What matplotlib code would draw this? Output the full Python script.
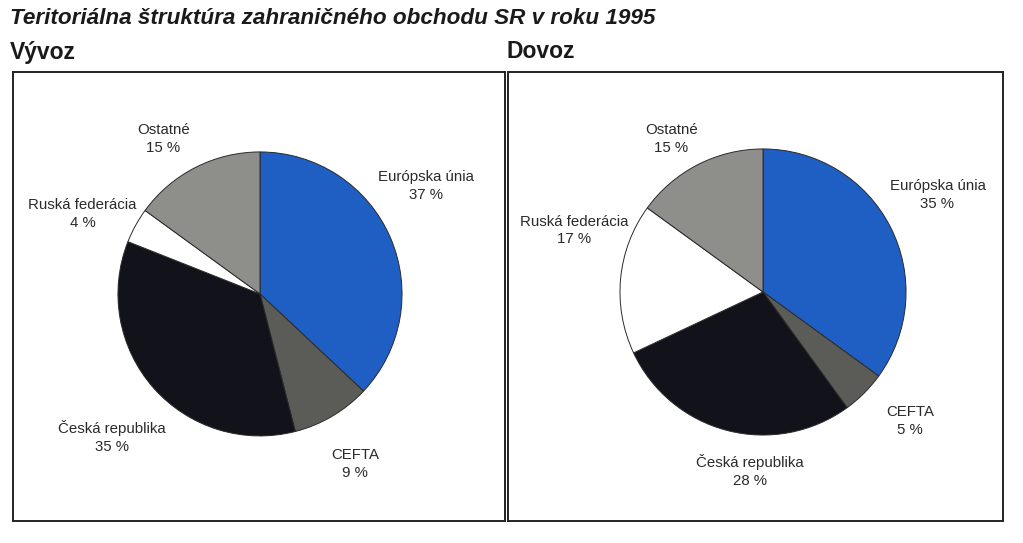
import matplotlib.pyplot as plt

# ── data ──────────────────────────────────────────────────────────────────────
REGIONS = ["Európska únia", "CEFTA", "Česká republika", "Ruská federácia", "Ostatné"]
VYVOZ   = [37, 9, 35, 4, 15]
DOVOZ   = [35, 5, 28, 17, 15]
COLORS  = ["#1f5fc4", "#5b5b57", "#12121a", "#ffffff", "#8e8e8a"]

# label positions (in pie-radius units), same order as REGIONS
POS_VYVOZ = [(1.17, 0.76), (0.67, -1.20), (-1.04, -1.01), (-1.25, 0.56), (-0.68, 1.09)]
POS_DOVOZ = [(1.22, 0.68), (1.03, -0.90), (-0.09, -1.25), (-1.32, 0.43), (-0.64, 1.07)]

plt.rcParams["font.family"] = ["Liberation Sans", "DejaVu Sans"]

W, H = 1023, 543
fig = plt.figure(figsize=(W / 100, H / 100), dpi=100)


def panel(rect_px, xlim, ylim, values, positions):
    x0, y0, x1, y1 = rect_px
    ax = fig.add_axes([x0 / W, 1 - y1 / H, (x1 - x0) / W, (y1 - y0) / H])
    ax.pie(values, colors=COLORS, startangle=90, counterclock=False,
           wedgeprops=dict(edgecolor="#2a2a2a", linewidth=0.7))
    ax.set_xlim(*xlim)
    ax.set_ylim(*ylim)
    ax.set_aspect("auto")
    ax.set_frame_on(True)
    for s in ax.spines.values():
        s.set_linewidth(1.4)
        s.set_color("#222222")
    ax.set_xticks([])
    ax.set_yticks([])
    for name, v, (tx, ty) in zip(REGIONS, values, positions):
        ax.text(tx, ty, f"{name}\n{v} %", ha="center", va="center",
                fontsize=10.8, color="#2a2a2a", linespacing=1.35)
    return ax


panel((13, 72, 505, 521), (-1.739, 1.725), (-1.599, 1.563), VYVOZ, POS_VYVOZ)
panel((508, 72, 1003, 521), (-1.783, 1.678), (-1.601, 1.538), DOVOZ, POS_DOVOZ)

fig.text(10 / W, 1 - 19 / H, "Teritoriálna štruktúra zahraničného obchodu SR v roku 1995",
         fontsize=16.2, fontweight="bold", fontstyle="italic", va="center", ha="left",
         color="#1a1a1a")
fig.text(10 / W, 1 - 52 / H, "Vývoz", fontsize=16.5, fontweight="bold",
         va="center", ha="left", color="#1a1a1a")
fig.text(507 / W, 1 - 52 / H, "Dovoz", fontsize=16.5, fontweight="bold",
         va="center", ha="left", color="#1a1a1a")

fig.savefig("out.png", dpi=100)
